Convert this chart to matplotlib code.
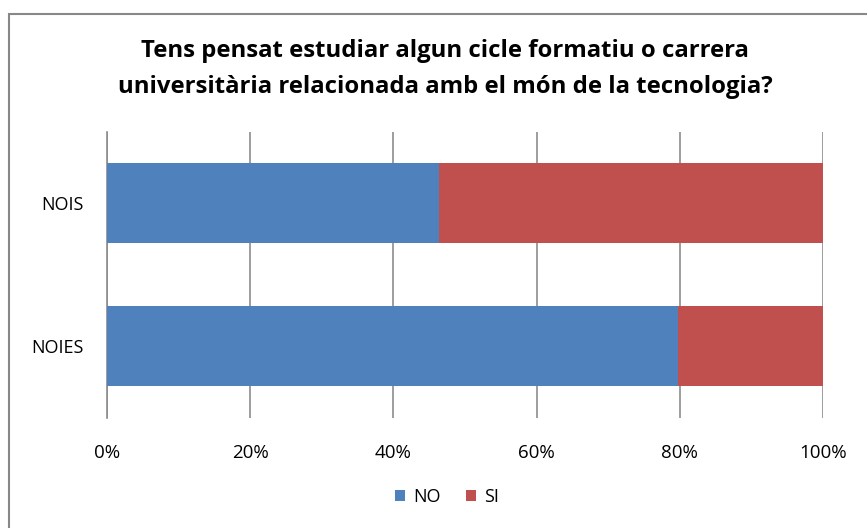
import numpy as np
import matplotlib.pyplot as plt
from matplotlib.patches import Rectangle

# dades (percentatges)
categories = ["NOIES", "NOIS"]
no_vals = [79.7, 46.4]
si_vals = [20.3, 53.6]
ticks = [0, 20, 40, 60, 80, 100]
tick_labels = ["0%", "20%", "40%", "60%", "80%", "100%"]

plt.rcParams['font.family'] = ['Open Sans', 'DejaVu Sans']

fig = plt.figure(figsize=(8.67, 5.28), dpi=100)
ax = fig.add_axes([107/867, 1 - 417.5/528, 716/867, 286/528])

# marc del grafic
fig.patches.append(Rectangle((8.5/867, -0.1), 1.0, 1 - 14/528 + 0.1,
                             transform=fig.transFigure, fill=False,
                             edgecolor="#888888", linewidth=1.5))

y = np.arange(len(categories))
ax.barh(y, no_vals, height=0.56, color="#4F81BD", label="NO", zorder=3)
ax.barh(y, si_vals, left=no_vals, height=0.56, color="#C0504D", label="SI", zorder=3)

ax.set_xlim(0, 100)
ax.set_ylim(-0.5, 1.5)
ax.set_xticks(ticks)
ax.set_xticklabels(tick_labels, fontsize=13.5)
ax.set_yticks(y)
ax.set_yticklabels(categories, fontsize=13)
ax.tick_params(axis="x", length=0, pad=19)
ax.tick_params(axis="y", length=0, pad=17)
ax.xaxis.grid(True, color="#8c8c8c", linewidth=1.2, zorder=0)
for s in ["top", "right", "bottom"]:
    ax.spines[s].set_visible(False)
ax.spines["left"].set_color("#8c8c8c")
ax.spines["left"].set_linewidth(1.2)

fig.text(445/867, 1 - 69/528,
         "Tens pensat estudiar algun cicle formatiu o carrera\n"
         "universitària relacionada amb el món de la tecnologia?",
         ha="center", va="center", fontsize=17.2, fontweight="bold",
         linespacing=1.7)

fig.legend(loc="center", bbox_to_anchor=(447/867, 1 - 497/528), ncol=2,
           frameon=False, fontsize=13, handlelength=0.55, handleheight=0.55,
           handletextpad=0.45, columnspacing=1.4)

fig.savefig("out.png", dpi=100)
